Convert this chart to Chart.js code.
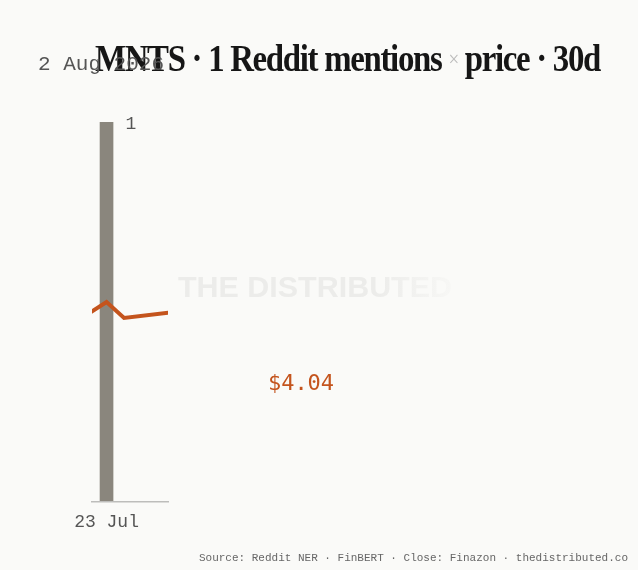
<!DOCTYPE html>
<html>
<head>
<meta charset="utf-8">
<script src="https://cdn.jsdelivr.net/npm/chart.js@4.4.0/dist/chart.umd.min.js"></script>
<style>
  html, body { margin: 0; padding: 0; background: #fafaf8; }
  #wrap { width: 638px; height: 570px; position: relative; }
  canvas { display: block; }
</style>
</head>
<body>
<div id="wrap"><canvas id="c" width="638" height="570"></canvas></div>
<script>
// ---- data ----
const mentionDays = [0];            // day offset from 23 Jul
const mentionCounts = [1];
const priceDays = [-1, 0, 1, 4];    // day offsets
const closePrices = [4.03, 4.10, 4.00, 4.04];
const tickDays = [0];
const tickLabels = ["23 Jul"];
const endDateLabel = "2 Aug 2026";
const titleLeft = "MNTS · 1 Reddit mentions ";
const titleMid = "×";
const titleRight = " price · 30d";
const sourceText = "Source: Reddit NER · FinBERT · Close: Finazon · thedistributed.co";
const watermarkText = "THE DISTRIBUTED";

const BG = "#fafaf8";
const BAR = "#8a867d";
const LINE = "#c4541d";
const MONO = "'Liberation Mono', 'DejaVu Sans Mono', monospace";
const SERIF = "'Liberation Serif', 'DejaVu Serif', serif";

const decor = {
  id: 'decor',
  beforeDatasetsDraw(chart) {
    const ctx = chart.ctx;
    ctx.save();
    ctx.font = "bold 30px 'Liberation Sans', Arial, sans-serif";
    const w = ctx.measureText(watermarkText).width;
    const sx = 274 / w;
    ctx.translate(178, 297);
    ctx.scale(sx, 1);
    const g = ctx.createLinearGradient(0, 0, w, 0);
    g.addColorStop(0, "#ececea");
    g.addColorStop(0.72, "#ececea");
    g.addColorStop(1, "rgba(236,236,234,0.2)");
    ctx.fillStyle = g;
    ctx.fillText(watermarkText, 0, 0);
    ctx.restore();
  },
  afterDatasetsDraw(chart) {
    const ctx = chart.ctx;
    const x = chart.scales.x;
    const area = chart.chartArea;
    ctx.save();
    ctx.strokeStyle = "#bdbdbb";
    ctx.lineWidth = 1.5;
    ctx.beginPath();
    ctx.moveTo(area.left - 1, area.bottom + 0.75);
    ctx.lineTo(area.right + 1, area.bottom + 0.75);
    ctx.stroke();

    // tick labels
    ctx.fillStyle = "#555555";
    ctx.font = "18px " + MONO;
    ctx.textAlign = "center";
    ctx.textBaseline = "alphabetic";
    tickDays.forEach((d, i) => {
      ctx.fillText(tickLabels[i], x.getPixelForValue(d), 527);
    });

    // bar value labels
    const meta = chart.getDatasetMeta(0);
    ctx.textAlign = "left";
    ctx.font = "18px " + MONO;
    meta.data.forEach((el, i) => {
      ctx.fillText(String(mentionCounts[i]), el.x + 19, el.y + 7);
    });

    // price label
    ctx.fillStyle = LINE;
    ctx.font = "22px 'DejaVu Sans Mono', monospace";
    ctx.textAlign = "center";
    ctx.fillText("$" + closePrices[closePrices.length - 1].toFixed(2), 301, 390);

    // title
    ctx.textAlign = "left";
    const bigFont = "bold 38px " + SERIF;
    const midFont = "22px " + SERIF;
    ctx.letterSpacing = "-1.5px";
    ctx.font = bigFont;
    const wl = ctx.measureText(titleLeft).width;
    const wr = ctx.measureText(titleRight).width;
    ctx.font = midFont;
    const wm = ctx.measureText(titleMid).width;
    const total = wl + wm + wr;
    const s = 505 / total;
    ctx.save();
    ctx.translate(95, 71);
    ctx.scale(s, 1);
    ctx.fillStyle = "#161616";
    ctx.font = bigFont;
    ctx.fillText(titleLeft, 0, 0);
    ctx.fillStyle = "#bbbbbb";
    ctx.font = midFont;
    ctx.fillText(titleMid, wl, -5);
    ctx.fillStyle = "#161616";
    ctx.font = bigFont;
    ctx.fillText(titleRight, wl + wm, 0);
    ctx.restore();
    ctx.letterSpacing = "0px";

    // end date label (overlaps title)
    ctx.fillStyle = "#555555";
    ctx.font = "21px " + MONO;
    ctx.textAlign = "left";
    ctx.fillText(endDateLabel, 38, 70);

    // source
    ctx.fillStyle = "#666666";
    ctx.font = "11px " + MONO;
    ctx.textAlign = "right";
    ctx.fillText(sourceText, 628, 561);
    ctx.restore();
  }
};

const bgPlugin = {
  id: 'bg',
  beforeDraw(chart) {
    const ctx = chart.ctx;
    ctx.save();
    ctx.fillStyle = BG;
    ctx.fillRect(0, 0, chart.width, chart.height);
    ctx.restore();
  }
};

new Chart(document.getElementById('c'), {
  data: {
    datasets: [
      {
        type: 'bar',
        label: 'Mentions',
        data: mentionDays.map((d, i) => ({ x: d, y: mentionCounts[i] })),
        backgroundColor: BAR,
        borderWidth: 0,
        barThickness: 13,
        yAxisID: 'y',
        order: 2
      },
      {
        type: 'line',
        label: 'Close',
        data: priceDays.map((d, i) => ({ x: d, y: closePrices[i] })),
        borderColor: LINE,
        borderWidth: 4,
        borderJoinStyle: 'miter',
        pointRadius: 0,
        tension: 0,
        fill: false,
        yAxisID: 'y2',
        order: 1
      }
    ]
  },
  options: {
    responsive: false,
    animation: false,
    devicePixelRatio: 1,
    layout: { padding: { left: 92, right: 470, top: 122, bottom: 69 } },
    plugins: { legend: { display: false }, tooltip: { enabled: false }, title: { display: false } },
    scales: {
      x: { type: 'linear', min: -0.83, max: 3.51, display: false, offset: false },
      y: { type: 'linear', min: 0, max: 1, display: false },
      y2: { type: 'linear', min: 2.85625, max: 5.225, display: false }
    }
  },
  plugins: [bgPlugin, decor]
});
</script>
</body>
</html>
